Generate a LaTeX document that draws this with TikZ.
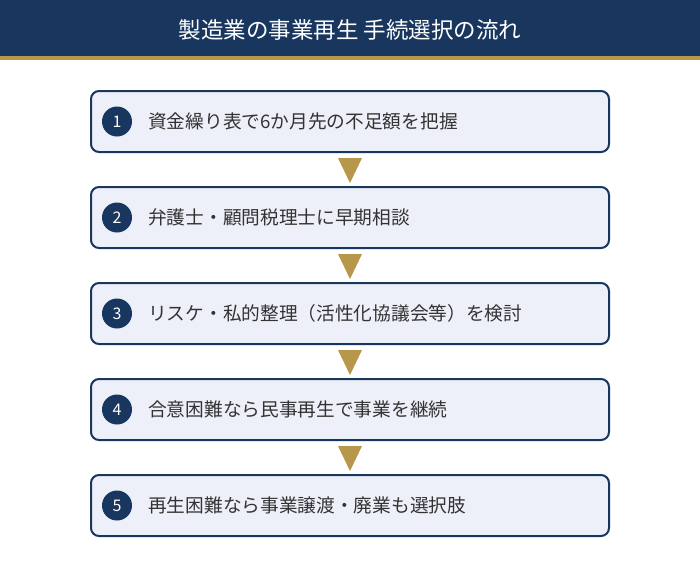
\documentclass[tikz,border=0pt]{standalone}
\usepackage{fontspec}
\setmainfont{Noto Sans CJK JP}
\newfontfamily\jpfont{Noto Sans CJK JP}
\definecolor{navy}{HTML}{18365E}
\definecolor{gold}{HTML}{B8964A}
\definecolor{boxfill}{HTML}{EDF0F8}
\definecolor{txt}{HTML}{333333}
\tikzset{
  x=1pt, y=-1pt,
  stepbox/.style={draw=navy, line width=2pt, fill=boxfill, rounded corners=8pt,
    minimum width=518pt, minimum height=61pt, inner sep=0pt},
  numdot/.style={circle, fill=navy, minimum size=30pt, inner sep=0pt,
    text=white, font=\jpfont\fontsize{16}{16}\selectfont},
  steptext/.style={anchor=west, text=txt, inner sep=0pt, font=\jpfont\fontsize{18.7}{20}\selectfont},
  flowarrow/.style={fill=gold, draw=none}
}
\begin{document}
\begin{tikzpicture}
\useasboundingbox (0,0) rectangle (700,566);
\fill[white] (0,0) rectangle (700,566);
\fill[navy] (0,0) rectangle (700,56);
\fill[gold] (0,56) rectangle (700,60);
\node[text=white, font=\jpfont\fontsize{22.5}{24}\selectfont] (title) at (350,29.5) {製造業の事業再生 手続選択の流れ};
\foreach \i/\t [count=\k from 0] in {
  1/資金繰り表で6か月先の不足額を把握,
  2/弁護士・顧問税理士に早期相談,
  3/リスケ・私的整理（活性化協議会等）を検討,
  4/合意困難なら民事再生で事業を継続,
  5/再生困難なら事業譲渡・廃業も選択肢} {
  \pgfmathsetmacro{\yc}{121.5+96*\k}
  \node[stepbox] (b\i) at (350,\yc) {};
  \node[numdot] (n\i) at (117,\yc) {\i};
  \node[steptext] (t\i) at (148,\yc) {\t};
}
\foreach \a/\b in {1/2,2/3,3/4,4/5} {
  \path (b\a.south) ++(0,5) coordinate (s\a);
  \fill[flowarrow] (s\a) ++(-12,0) -- ++(24,0) -- ++(-12,25) -- cycle;
}
\end{tikzpicture}
\end{document}
